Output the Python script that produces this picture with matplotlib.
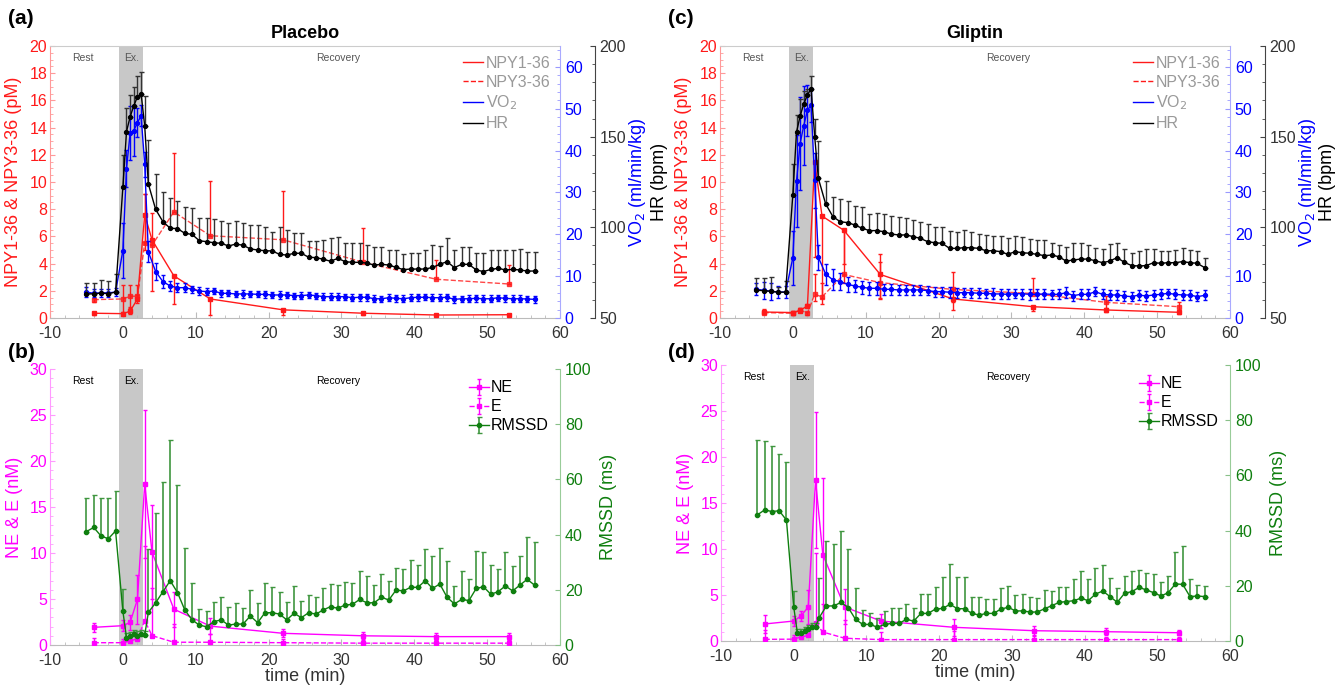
import numpy as np
import matplotlib
matplotlib.use("Agg")
import matplotlib.pyplot as plt
from matplotlib.lines import Line2D
from matplotlib.ticker import MultipleLocator

plt.rcParams['font.family'] = ['Liberation Sans', 'DejaVu Sans']
plt.rcParams['axes.unicode_minus'] = False

# ---- time grids (min) ----
T_HR = [-5, -4, -3, -2, -1, 0, 0.5, 1, 1.5, 2, 2.5, 3, 3.5,
        4.5, 5.5, 6.5, 7.5, 8.5, 9.5, 10.5, 11.5, 12.5, 13.5, 14.5, 15.5,
        16.5, 17.5, 18.5, 19.5, 20.5, 21.5, 22.5, 23.5, 24.5, 25.5, 26.5,
        27.5, 28.5, 29.5, 30.5, 31.5, 32.5, 33.5, 34.5, 35.5, 36.5, 37.5,
        38.5, 39.5, 40.5, 41.5, 42.5, 43.5, 44.5, 45.5, 46.5, 47.5, 48.5,
        49.5, 50.5, 51.5, 52.5, 53.5, 54.5, 55.5, 56.5]
T_BLOOD = [-4, 0, 1, 2, 3, 4, 7, 12, 22, 33, 43, 53]

# ---- Placebo ----
HR_P = [63.3, 63.3, 63.8, 63.4, 64.3,
        122, 152.8, 161, 167, 172, 173.8, 155.8, 123.9,
        109.9, 103.1, 99.5, 99.3, 96.7, 96.1, 92.6, 92.1, 91.5, 91.2, 89.7,
        90.8, 90.1, 88.1, 87.5, 87.1, 87.0, 85.1, 84.7, 85.7, 85.7, 83.5,
        83.3, 82.4, 81.3, 82.9, 81.1, 80.7, 80.7, 80.2, 79.2, 79.6, 79.2,
        77.9, 76.7, 77.0, 77.0, 77.0, 77.9, 79.6, 81.1, 77.8, 79.6, 79.6,
        76.5, 75.6, 76.8, 77.4, 76.5, 76.8, 76.5, 75.9, 75.9]
HR_P_ERR = [5.8, 5.8, 7, 7, 9.7,
            18, 13, 12, 10.5, 11.6, 11.6, 16.5, 24,
            19.7, 16.2, 16.6, 15.1, 14.7, 14.3, 12.3, 12.9, 12.9, 12.5, 12.5,
            12.9, 12.1, 13.2, 13.8, 12.9, 10.7, 14.9, 13.8, 11, 11, 9, 9.2,
            10.7, 12.7, 11.6, 10.5, 10.5, 10.8, 10.1, 10.1, 9.7, 8.3, 9.6,
            8.6, 8.6, 8.6, 10.5, 12.3, 10.1, 12.9, 9.7, 9.7, 9.7, 9.2, 10.1,
            10.7, 10.1, 11, 10.7, 11.4, 10.7, 10.7]
VO2_P = [6.2, 5.9, 6.0, 6.0, 6.2,
         16.1, 35.7, 44.2, 44.8, 46.7, 48.3, 36.7, 15.8,
         11.1, 8.7, 7.65, 7.25, 7.25, 6.85, 6.45, 6.3, 6.45, 5.9, 5.9, 5.75,
         5.75, 5.75, 5.65, 5.65, 5.5, 5.5, 5.5, 5.35, 5.35, 5.5, 5.35, 5.1,
         5.1, 5.1, 5.1, 4.85, 4.95, 4.95, 4.6, 4.6, 4.85, 4.7, 4.6, 4.85,
         4.95, 4.95, 4.85, 4.85, 4.95, 4.45, 4.6, 4.6, 4.7, 4.6, 4.6, 4.85,
         4.7, 4.6, 4.6, 4.55, 4.45]
VO2_P_ERR = [1.2, 1.0, 1.0, 1.0, 1.0,
             6.5, 4.5, 6.5, 6, 3.5, 2.5, 3, 2.5,
             2.0, 1.5, 1.2, 1.0, 1.0, 0.9, 0.9, 0.8, 0.8, 0.8,
             0.7, 0.8, 0.9, 0.8, 0.7, 0.8, 0.8, 0.9, 0.8, 0.7,
             0.8, 0.8, 0.7, 0.9, 0.8, 0.8, 0.7, 0.8, 0.9, 0.8,
             0.8, 0.7, 0.8, 0.9, 0.8, 0.8, 0.8, 0.7, 0.8, 0.9,
             0.8, 0.8, 0.7, 0.8, 0.9, 0.8, 0.8, 0.7, 0.8, 0.8,
             0.8, 0.7, 0.8]
NPY1_P = [0.35, 0.32, 0.5, 1.4, 7.6, 5.75, 3.1, 1.4, 0.6, 0.35, 0.22, 0.24]
NPY1_P_LO = [0.1, 0.1, 0.2, 0.3, 2.0, 3.8, 2.1, 1.2, 0.4, 0.1, 0.05, 0.05]
NPY1_P_HI = [0.1, 0.1, 0.2, 0.3, 1.5, 0, 0, 0, 0, 0.1, 0.05, 0.05]
NPY3_P = [1.35, 1.4, 1.6, 1.6, 5.5, 5.35, 7.8, 6.05, 5.75, 4.1, 2.85, 2.5]
NPY3_P_LO = [0.15, 1.0, 0.8, 0.3, 0.5, 0, 0, 0, 0, 0, 0, 0]
NPY3_P_HI = [0.15, 1.0, 0.8, 0.8, 3.6, 2.4, 4.35, 4.05, 3.6, 2.5, 1.45, 1.4]

NE_P = [1.92, 2.1, 2.46, 4.96, 17.5, 10.1, 3.9, 2.05, 1.27, 1.0, 0.91, 0.91]
NE_P_ERR = [0.5, 0.6, 0.85, 2.65, 8, 5.1, 1.9, 0.9, 0.45, 0.4, 0.35, 0.4]
E_P = [0.25, 0.25, 0.42, 0.7, 2.65, 1.02, 0.3, 0.3, 0.25, 0.2, 0.2, 0.2]
E_P_ERR = [0.5, 0.4, 0.3, 0.5, 8.1, 5.2, 2.0, 0.85, 0.4, 0.35, 0.3, 0.3]
RMSSD_P = [41.1, 42.6, 39.5, 38.5, 41.3,
           12.3, 2.7, 3.3, 3.9, 3.4, 3.9, 3.6, 11.8,
           15.3, 19.3, 23.3, 19.0, 12.7, 9.1, 7.2, 6.6, 8.5, 9.1, 7.2, 7.6,
           7.6, 10.5, 8.1, 11.7, 11.7, 11.2, 9.1, 11.5, 9.9, 11.7, 11.2, 12.7,
           13.9, 13.3, 14.5, 14.7, 16.5, 15.3, 15.3, 17.3, 16.3, 19.9, 19.6,
           20.9, 20.9, 23.3, 20.5, 22.1, 17.3, 14.9, 16.5, 16.1, 20.5, 21.1,
           18.4, 19.3, 21.4, 19.6, 21.7, 23.8, 21.7]
RMSSD_P_ERR = [12, 11.9, 13.6, 14.6, 14.6,
               7.9, 1.5, 1.5, 1.5, 1.5, 1.5, 1.5, 23,
               32.4, 39.9, 51, 39, 22.3, 13.3, 5.7, 5.8, 7.2, 8.2, 6.6, 7.5,
               5.7, 9.4, 7.2, 10.9, 9.4, 8.1, 6.3, 9.9, 6, 6.4, 6.3, 7.9, 8.2,
               8.5, 8.2, 7.6, 10.4, 9.7, 6.4, 8.5, 6.9, 7.9, 7.9, 9.9, 8.1,
               11.4, 11.7, 12.9, 13.2, 6.3, 10.3, 7.9, 13.7, 12.7, 10.6, 8.1,
               12.4, 9.2, 10.5, 15.2, 15.7]

# ---- Gliptin ----
HR_G = [65.3, 65.1, 64.7, 64.2, 64.3,
        118.1, 152.5, 161.4, 168.1, 173, 176.4, 150, 127,
        112.9, 105.9, 103.1, 102.6, 101.3, 99.5, 98.2, 98.2, 97.6, 96.3,
        95.8, 95.8, 94.9, 93.9, 92.1, 91.5, 91.2, 88.4, 88.4, 88.8, 88.8,
        88.4, 87.1, 87.1, 86.6, 85.1, 86.6, 86.0, 85.7, 85.1, 84.4, 84.7,
        83.8, 81.4, 82.0, 82.5, 82.5, 81.6, 80.5, 81.4, 83.3, 80.7, 78.9,
        78.7, 78.9, 80.5, 80.2, 80.5, 80.5, 81.1, 80.5, 80.2, 77.8]
HR_G_ERR = [6.5, 7, 8, 3, 6,
            16.6, 9.2, 9.2, 7, 3.5, 7.3, 10, 20.6,
            12.8, 11, 12.3, 12, 10.3, 11.6, 9, 9.5, 10, 10, 10, 9.5, 9, 9,
            9.5, 8.5, 9, 9.5, 9, 9.5, 8.5, 8, 8.5, 8, 8.5, 9, 8.5, 8.5, 8, 8,
            8.5, 6.5, 6.5, 8, 9.5, 9, 7.5, 7, 7.5, 9.5, 8, 7.5, 7, 8.5, 9,
            7.5, 6.5, 6.5, 7, 7.5, 7, 7, 5.5]
VO2_G = [6.9, 6.6, 6.4, 6.2, 6.2,
         14.4, 32.7, 41.7, 46.0, 49.6, 50.9, 32.9, 14.5,
         10.5, 9.1, 8.7, 8.05, 7.65, 7.35, 7.1, 7.1, 6.85, 6.85, 6.7, 6.7,
         6.7, 6.7, 6.55, 6.3, 6.3, 6.15, 6.05, 6.05, 6.05, 5.9, 5.9, 5.75,
         5.75, 5.65, 5.8, 5.8, 5.65, 5.65, 5.75, 5.65, 5.65, 6.05, 5.35,
         5.65, 5.65, 6.3, 5.65, 5.5, 5.5, 5.25, 5.1, 5.5, 5.25, 5.5, 5.65,
         5.9, 5.65, 5.5, 5.5, 5.1, 5.4]
VO2_G_ERR = [1.5, 2, 2, 1.5, 1.5,
             6.5, 11, 11, 9.5, 6, 4, 6.5, 3,
             2.5, 2.5, 2, 1.8, 1.5, 1.5, 1.5, 1.5, 1.3, 1.3,
             1.2, 1.2, 1.3, 1.2, 1.1, 1.2, 1.2, 1.3, 1.2, 1.1,
             1.2, 1.2, 1.1, 1.3, 1.2, 1.2, 1.1, 1.2, 1.3, 1.2,
             1.2, 1.1, 1.2, 1.3, 1.2, 1.2, 1.2, 1.1, 1.2, 1.3,
             1.2, 1.2, 1.1, 1.2, 1.3, 1.2, 1.2, 1.1, 1.2, 1.2,
             1.2, 1.1, 1.2]
NPY1_G = [0.44, 0.4, 0.55, 0.9, 11.5, 7.5, 6.45, 3.2, 1.4, 0.83, 0.59, 0.42]
NPY1_G_LO = [0.1, 0.1, 0.1, 0.1, 7, 6, 2.5, 1.7, 0.8, 0.3, 0.15, 0.1]
NPY1_G_HI = [0.2, 0.15, 0.15, 0.1, 0, 0, 0, 1.5, 0, 0, 0, 0]
NPY3_G = [0.4, 0.35, 0.6, 0.35, 1.75, 1.55, 3.2, 2.6, 2.1, 1.8, 1.15, 0.83]
NPY3_G_LO = [0.1, 0.1, 0.1, 0.1, 0.5, 0.5, 0.6, 1.2, 0.9, 0, 0.4, 0.3]
NPY3_G_HI = [0.1, 0.1, 0.1, 0.1, 1.5, 1.0, 3.2, 1.5, 1.3, 1.15, 0.45, 0.35]

NE_G = [1.85, 2.17, 2.72, 3.7, 17.5, 9.4, 3.7, 2.17, 1.49, 1.12, 1.01, 0.9]
NE_G_ERR = [1.0, 0.5, 0.5, 1.8, 7.4, 8.3, 1.9, 0.8, 0.9, 0.5, 0.4, 0.3]
E_G = [0.18, 0.2, 0.45, 0.6, 1.95, 0.98, 0.3, 0.15, 0.15, 0.15, 0.15, 0.15]
E_G_ERR = [1.0, 0.5, 0.3, 0.3, 7.6, 3.0, 2.0, 0.85, 0.95, 0.4, 0.3, 0.3]
RMSSD_G = [45.7, 47.5, 46.9, 47.2, 43.8,
           12.4, 3.0, 3.0, 3.6, 4.2, 4.95, 5.2, 8.45,
           12.7, 12.7, 14.0, 12.1, 7.85, 6.0, 6.0, 5.0, 6.0, 6.4, 6.4, 7.85,
           7.2, 10.0, 10.0, 11.6, 11.8, 13.3, 11.7, 11.7, 10.0, 9.4, 10.0,
           10.0, 11.6, 12.2, 10.9, 10.9, 10.5, 10.5, 11.7, 12.8, 14.0, 14.3,
           14.6, 15.5, 14.6, 17.0, 18.1, 16.1, 14.0, 17.3, 17.9, 19.4, 18.5,
           17.5, 16.3, 17.5, 20.7, 20.5, 16.1, 16.3, 16.1]
RMSSD_G_ERR = [27.1, 25, 23.8, 20.4, 20.9,
               5.8, 1.5, 1.5, 1.5, 1.5, 1.5, 1.5, 14.5,
               23.7, 22.3, 26, 21.3, 11.2, 5.4, 4.0, 3.5, 5.0, 5.4, 5.4, 5.4,
               4.6, 7.2, 7.0, 8.1, 11.5, 14.6, 11.6, 11.6, 5.8, 6.6, 5.1, 5.1,
               7.7, 7.9, 5.6, 6, 5.6, 5.0, 6.8, 5.3, 5.4, 5.4, 7.9, 9.9, 7.7,
               9.3, 9.4, 6.9, 5.1, 6.4, 7.6, 6.3, 6, 6.8, 5.0, 6, 11.7, 14,
               6.3, 3.9, 3.9]

RED = '#ff1a1a'
BLUE = '#0000ff'
MAG = '#ff00ff'
GREEN = '#0f7f0f'
TXT = '#333333'

W, H = 1336, 686
fig = plt.figure(figsize=(W / 100, H / 100), dpi=100)


def box(l, t, r, b):
    return [l / W, 1 - b / H, (r - l) / W, (b - t) / H]


def phase_marks(ax, color):
    ax.axvspan(-0.55, 2.8, color='#c8c8c8', zorder=0, lw=0)
    for x, s in [(-5.5, 'Rest'), (1.2, 'Ex.'), (29.5, 'Recovery')]:
        ax.text(x, 0.975, s, transform=ax.get_xaxis_transform(), ha='center',
                va='top', fontsize=7.5, color=color)


def base_x(ax):
    ax.set_xlim(-10, 60)
    ax.xaxis.set_major_locator(MultipleLocator(10))
    ax.xaxis.set_minor_locator(MultipleLocator(2))
    ax.tick_params(axis='x', which='both', direction='in', colors='#bbbbbb',
                   labelcolor=TXT, labelsize=11.5, pad=6)
    ax.tick_params(axis='x', which='major', length=4)
    ax.tick_params(axis='x', which='minor', length=2)
    ax.spines['bottom'].set_color('#bbbbbb')


def top_panel(rect, title, npy1, n1lo, n1hi, npy3, n3lo, n3hi,
              hr, hr_err, vo2, vo2_err, ylx, vlx):
    ax = fig.add_axes(box(*rect))
    base_x(ax)
    phase_marks(ax, '#555555')
    ax.set_ylim(0, 20)
    ax.yaxis.set_major_locator(MultipleLocator(2))
    ax.yaxis.set_minor_locator(MultipleLocator(0.5))
    ax.tick_params(axis='y', which='both', direction='in', colors='#ff9999',
                   labelcolor=RED, labelsize=11.5, pad=2)
    ax.tick_params(axis='y', which='minor', length=2)
    ax.spines['left'].set_color('#ff9999')
    ax.spines['top'].set_color('#cccccc')
    ax.spines['right'].set_visible(False)
    ax.set_ylabel('NPY1-36 & NPY3-36 (pM)', color=RED, fontsize=13, labelpad=5)

    ax.errorbar(T_BLOOD, npy1, yerr=[n1lo, n1hi], color=RED, lw=1, marker='s',
                ms=3, capsize=1.5, elinewidth=1, zorder=3)
    l3 = ax.errorbar(T_BLOOD, npy3, yerr=[n3lo, n3hi], color=RED, lw=1,
                     marker='s', ms=3, capsize=1.5, elinewidth=1, zorder=3)
    l3[0].set_linestyle('--')
    l3[0].set_alpha(0.8)

    ax.set_title(title, fontsize=13, fontweight='bold', pad=6)

    av = ax.twinx()
    av.set_ylim(0, 65)
    av.yaxis.set_major_locator(MultipleLocator(10))
    av.yaxis.set_minor_locator(MultipleLocator(2))
    av.tick_params(axis='y', which='both', direction='in', colors='#9999ff',
                   labelcolor=BLUE, labelsize=11.5)
    av.tick_params(axis='y', which='minor', length=2)
    for s in ('top', 'bottom', 'left'):
        av.spines[s].set_visible(False)
    av.spines['right'].set_color('#aaaaff')
    av.errorbar(T_HR, vo2, yerr=vo2_err, color=BLUE, lw=1, marker='o', ms=2.8,
                capsize=1.5, elinewidth=1, zorder=3)

    ah = ax.twinx()
    ah.set_ylim(50, 200)
    ah.spines['right'].set_position(('outward', 25))
    ah.yaxis.set_major_locator(MultipleLocator(50))
    ah.yaxis.set_minor_locator(MultipleLocator(10))
    ah.tick_params(axis='y', which='both', direction='in', colors='#444444',
                   labelcolor=TXT, labelsize=11.5)
    ah.tick_params(axis='y', which='minor', length=2)
    for s in ('top', 'bottom', 'left'):
        ah.spines[s].set_visible(False)
    ah.spines['right'].set_color('#444444')
    hr_lo = [0] * len(hr_err)
    ah.errorbar(T_HR, hr, yerr=[hr_lo, hr_err], color='black', lw=1,
                marker='o', ms=2.8, capsize=1.8, elinewidth=1,
                ecolor='#333333', zorder=3)

    handles = [Line2D([], [], color=RED, lw=1),
               Line2D([], [], color=RED, lw=1, ls='--'),
               Line2D([], [], color=BLUE, lw=1),
               Line2D([], [], color='black', lw=1)]
    ah.legend(handles, ['NPY1-36', 'NPY3-36', 'VO$_2$', 'HR'], loc='upper right',
              frameon=False, fontsize=11.5, labelcolor='#999999',
              handlelength=1.3, handletextpad=0.15, borderaxespad=0.2,
              labelspacing=0.25)

    yc = (rect[1] + rect[3]) / 2
    fig.text(vlx / W, 1 - yc / H, 'VO$_2$ (ml/min/kg)', rotation=90,
             color=BLUE, fontsize=13, ha='center', va='center')
    fig.text(ylx / W, 1 - yc / H, 'HR (bpm)', rotation=90, color='black',
             fontsize=13, ha='center', va='center')
    return ax


def bottom_panel(rect, ne, ne_err, e, e_err, rm, rm_err):
    ax = fig.add_axes(box(*rect))
    base_x(ax)
    phase_marks(ax, 'black')
    ax.set_ylim(0, 30)
    ax.yaxis.set_major_locator(MultipleLocator(5))
    ax.yaxis.set_minor_locator(MultipleLocator(1))
    ax.tick_params(axis='y', which='both', direction='in', colors='#ff99ff',
                   labelcolor=MAG, labelsize=11.5, pad=2)
    ax.tick_params(axis='y', which='minor', length=2)
    ax.spines['left'].set_color('#ff99ff')
    ax.spines['top'].set_visible(False)
    ax.spines['right'].set_visible(False)
    ax.set_ylabel('NE & E (nM)', color=MAG, fontsize=13, labelpad=5)
    ax.set_xlabel('time (min)', color=TXT, fontsize=13, labelpad=0)

    h_ne = ax.errorbar(T_BLOOD, ne, yerr=ne_err, color=MAG, lw=1, marker='s',
                       ms=3, capsize=1.5, elinewidth=1, zorder=3)
    h_e = ax.errorbar(T_BLOOD, e, yerr=[[0] * len(e_err), e_err], color=MAG,
                      lw=1, ls='--', marker='s', ms=3, capsize=1.5,
                      elinewidth=1, zorder=3)

    ar = ax.twinx()
    ar.set_ylim(0, 100)
    ar.yaxis.set_major_locator(MultipleLocator(20))
    ar.tick_params(axis='y', direction='in', colors='#88c088',
                   labelcolor=GREEN, labelsize=11.5)
    for s in ('top', 'bottom', 'left'):
        ar.spines[s].set_visible(False)
    ar.spines['right'].set_color('#99cc99')
    ar.set_ylabel('RMSSD (ms)', color=GREEN, fontsize=13, labelpad=6)
    rm_lo = [0] * len(rm_err)
    h_rm = ar.errorbar(T_HR, rm, yerr=[rm_lo, rm_err], color=GREEN, lw=1,
                       marker='o', ms=3, capsize=1.8, elinewidth=1.2,
                       ecolor='#3f963f', zorder=3)
    ar.legend([h_ne, h_e, h_rm], ['NE', 'E', 'RMSSD'], loc='upper right',
              frameon=False, fontsize=11.5, handlelength=1.3,
              handletextpad=0.1, borderaxespad=0.3, labelspacing=0.25)
    return ax


top_panel((50, 46, 560, 318), 'Placebo', NPY1_P, NPY1_P_LO, NPY1_P_HI,
          NPY3_P, NPY3_P_LO, NPY3_P_HI, HR_P, HR_P_ERR, VO2_P, VO2_P_ERR,
          659, 638)
top_panel((720, 46, 1230, 318), 'Gliptin', NPY1_G, NPY1_G_LO, NPY1_G_HI,
          NPY3_G, NPY3_G_LO, NPY3_G_HI, HR_G, HR_G_ERR, VO2_G, VO2_G_ERR,
          1328, 1307)
bottom_panel((50, 369, 560, 645), NE_P, NE_P_ERR, E_P, E_P_ERR,
             RMSSD_P, RMSSD_P_ERR)
bottom_panel((721, 365, 1230, 641), NE_G, NE_G_ERR, E_G, E_G_ERR,
             RMSSD_G, RMSSD_G_ERR)

for x, y, s in [(8, 18, '(a)'), (8, 352, '(b)'), (668, 18, '(c)'),
                (668, 352, '(d)')]:
    fig.text(x / W, 1 - y / H, s, fontsize=15, fontweight='bold',
             va='center', ha='left')

fig.savefig('out.png', dpi=100)
